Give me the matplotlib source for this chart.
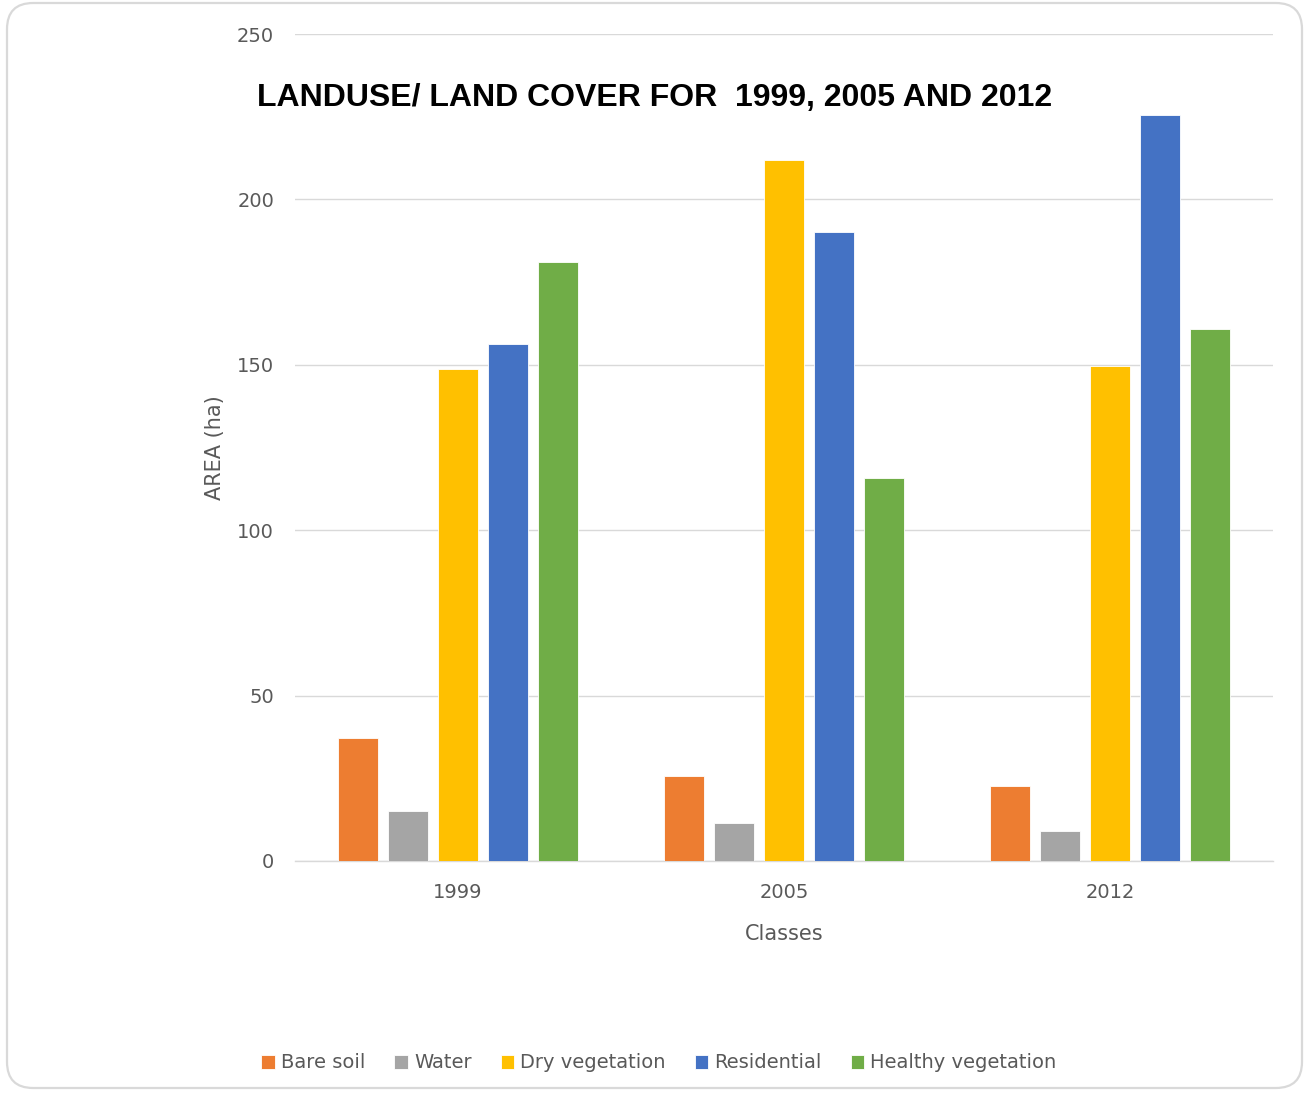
import matplotlib
matplotlib.use("Agg")
import matplotlib.pyplot as plt
import numpy as np
from matplotlib.patches import FancyBboxPatch

years = ["1999", "2005", "2012"]
classes = ["Bare soil", "Water", "Dry vegetation", "Residential", "Healthy vegetation"]
bare_soil = [37.2, 25.7, 22.7]
water = [15.1, 11.5, 9.1]
dry_vegetation = [148.7, 211.9, 149.6]
residential = [156.3, 190.1, 225.5]
healthy_vegetation = [181.1, 115.8, 160.8]
colors = ["#ED7D31", "#A5A5A5", "#FFC000", "#4472C4", "#70AD47"]

series = [bare_soil, water, dry_vegetation, residential, healthy_vegetation]

W, H = 1309, 1095
fig = plt.figure(figsize=(W / 100, H / 100), dpi=100)
fig.patch.set_facecolor("white")

# rounded frame around the chart
frame = FancyBboxPatch((7 / W, 7 / H), (1302 - 7) / W, (1092 - 7) / H,
                       boxstyle="round,pad=0,rounding_size=0.02",
                       transform=fig.transFigure, facecolor="none",
                       edgecolor="#D9D9D9", linewidth=1.6, mutation_aspect=W / H,
                       zorder=-1)
fig.patches.append(frame)

ax = fig.add_axes([295 / W, 1 - 861 / H, (1273 - 295) / W, (861 - 34) / H])
ax.set_facecolor("none")

x = np.arange(len(years))
bw = 40 / 326
step = 50 / 326
for i, (vals, name, c) in enumerate(zip(series, classes, colors)):
    ax.bar(x + (i - 2) * step, vals, width=bw, color=c, label=name,
           edgecolor="white", linewidth=0.6, zorder=3)

ax.set_xlim(-0.5, 2.5)
ax.set_ylim(0, 250)
ax.set_yticks(np.arange(0, 251, 50))
ax.set_xticks(x)
ax.set_xticklabels(years)
ax.yaxis.grid(True, color="#D9D9D9", linewidth=1.0, zorder=0)
for s in ["top", "right", "left"]:
    ax.spines[s].set_visible(False)
ax.spines["bottom"].set_color("#D9D9D9")
ax.spines["bottom"].set_linewidth(1.0)
ax.tick_params(axis="both", length=0, labelsize=14, labelcolor="#595959")
ax.tick_params(axis="y", pad=15)
ax.tick_params(axis="x", pad=16)

ax.set_xlabel("Classes", fontsize=15, color="#595959", labelpad=16)
ax.set_ylabel("AREA (ha)", fontsize=15, color="#595959", labelpad=9)

fig.text(257 / W, 1 - 98 / H, "LANDUSE/ LAND COVER FOR  1999, 2005 AND 2012",
         fontsize=23, fontweight="bold", color="black", ha="left", va="center",
         family="Liberation Sans")

leg = fig.legend(loc="center", bbox_to_anchor=(659 / W, 1 - 1063 / H), ncol=5,
                 frameon=False, fontsize=14, handlelength=0.7, handleheight=0.7,
                 handletextpad=0.3, columnspacing=1.5)
for t in leg.get_texts():
    t.set_color("#595959")

fig.savefig("out.png", dpi=100, facecolor="white")
